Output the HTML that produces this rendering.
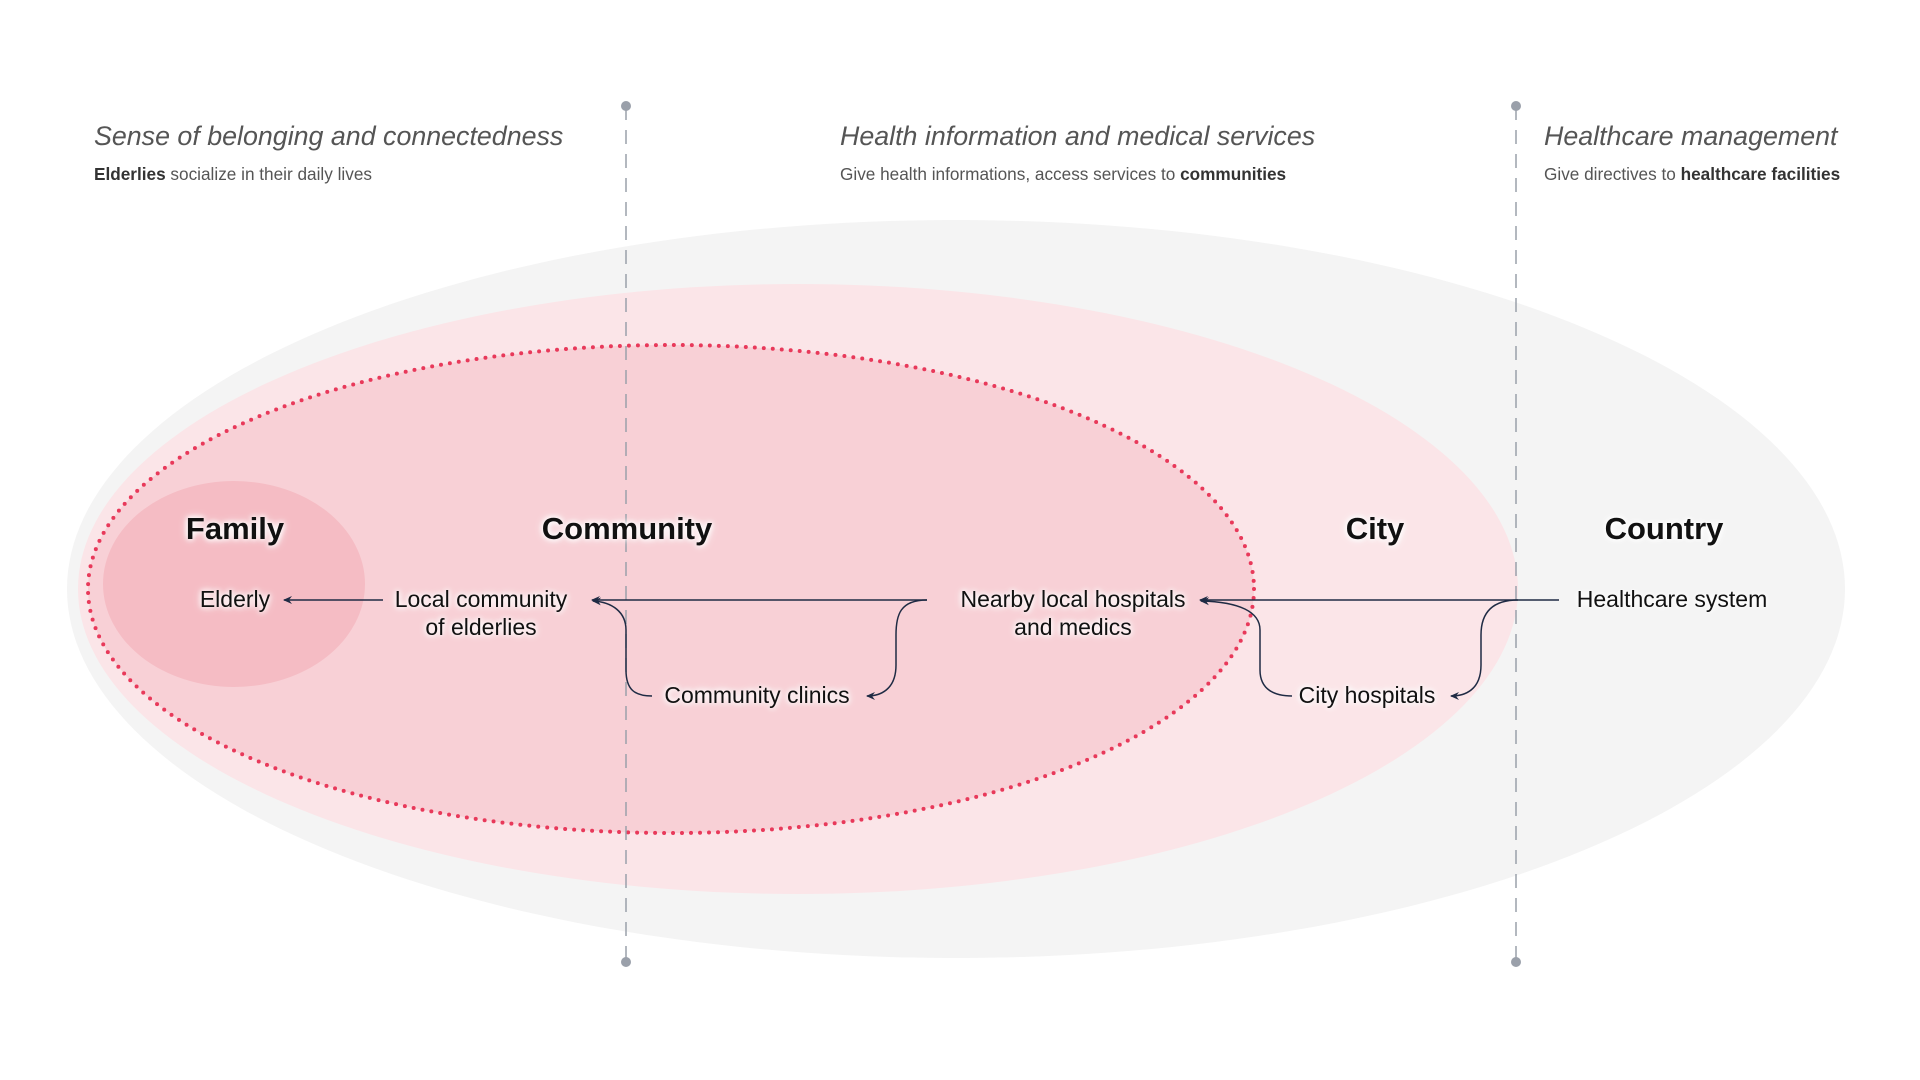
<!DOCTYPE html>
<html><head><meta charset="utf-8"><style>
body{margin:0;width:1920px;height:1080px;background:#fff;overflow:hidden;position:relative;font-family:"Liberation Sans",sans-serif}
svg{position:absolute;left:0;top:0}
.t{position:absolute;white-space:nowrap;color:#111;text-shadow:0 0 6px #fff,0 0 6px #fff,0 0 10px #fff}
.h{position:absolute;white-space:nowrap;color:#555;font-style:italic;font-size:26.8px;font-weight:300}
.s{position:absolute;white-space:nowrap;color:#555;font-size:17.2px}
.s b{color:#333}
.big{font-size:31px;font-weight:bold;transform:translateX(-50%)}
.n{font-size:23px;text-align:center;line-height:28px;transform:translateX(-50%)}
</style></head><body>
<svg width="1920" height="1080">
<defs><marker id="a" markerWidth="10" markerHeight="10" refX="8" refY="5" orient="auto" markerUnits="userSpaceOnUse"><path d="M0,1 L9,5 L0,9 L3,5 Z" fill="#1f2b44"/></marker></defs>
<ellipse cx="956" cy="589" rx="889" ry="369" fill="#f4f4f4"/>
<ellipse cx="798" cy="589" rx="720" ry="305" fill="#fbe5e8"/>
<ellipse cx="671" cy="589" rx="583" ry="244" fill="#f8d0d6"/>
<ellipse cx="671" cy="589" rx="583" ry="244" fill="none" stroke="#e8395a" stroke-width="4" stroke-linecap="round" stroke-dasharray="0 9"/>
<ellipse cx="234" cy="584" rx="131" ry="103" fill="#f5bcc4"/>
<g stroke="#9aa0aa" stroke-width="1.5" stroke-dasharray="14 10"><line x1="626" y1="106" x2="626" y2="962"/><line x1="1516" y1="106" x2="1516" y2="962"/></g>
<g fill="#9aa0aa"><circle cx="626" cy="106" r="5"/><circle cx="626" cy="962" r="5"/><circle cx="1516" cy="106" r="5"/><circle cx="1516" cy="962" r="5"/></g>
<g stroke="#1f2b44" stroke-width="1.5" fill="none" marker-end="url(#a)">
<line x1="383" y1="600" x2="284" y2="600"/>
<line x1="1559" y1="600" x2="1200" y2="600"/>
<line x1="927" y1="600" x2="592" y2="600"/>
<path d="M927,600 C900,600 896,615 896,635 L896,665 C896,690 880,696 867,696"/>
<path d="M1518,600 C1490,600 1481,615 1481,635 L1481,665 C1481,690 1465,696 1451,696"/>
<path d="M652,696 C635,696 626,690 626,670 L626,630 C626,612 612,602 593,601"/>
<path d="M1292,696 C1275,696 1260,690 1260,670 L1260,630 C1260,612 1240,602 1201,601"/>
</g>
</svg>
<div class="h" style="left:94px;top:121px">Sense of belonging and connectedness</div>
<div class="s" style="left:94px;top:164px"><b>Elderlies</b> socialize in their daily lives</div>
<div class="h" style="left:840px;top:121px">Health information and medical services</div>
<div class="s" style="left:840px;top:164px">Give health informations, access services to <b>communities</b></div>
<div class="h" style="left:1544px;top:121px">Healthcare management</div>
<div class="s" style="left:1544px;top:164px">Give directives to <b>healthcare facilities</b></div>
<div class="t big" style="left:235px;top:511px">Family</div>
<div class="t big" style="left:627px;top:511px">Community</div>
<div class="t big" style="left:1375px;top:511px">City</div>
<div class="t big" style="left:1664px;top:511px">Country</div>
<div class="t n" style="left:235px;top:585px">Elderly</div>
<div class="t n" style="left:481px;top:585px">Local community<br>of elderlies</div>
<div class="t n" style="left:1073px;top:585px">Nearby local hospitals<br>and medics</div>
<div class="t n" style="left:1672px;top:585px">Healthcare system</div>
<div class="t n" style="left:757px;top:681px">Community clinics</div>
<div class="t n" style="left:1367px;top:681px">City hospitals</div>
</body></html>
